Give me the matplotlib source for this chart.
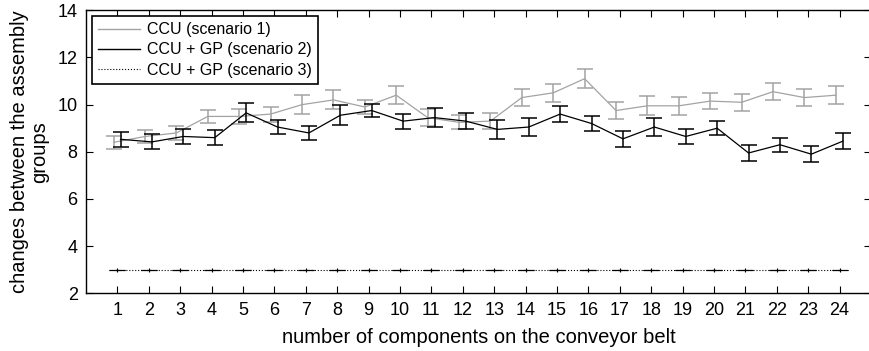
import matplotlib
matplotlib.use("Agg")
import matplotlib.pyplot as plt
import matplotlib.lines as mlines
import numpy as np

# ── Data ──────────────────────────────────────────────────────────────────────
components = np.arange(1, 25)

s1_mean = [8.4, 8.65, 8.8, 9.5, 9.5, 9.6, 10.0, 10.2, 9.9, 10.4, 9.45, 9.25,
           9.3, 10.3, 10.5, 11.1, 9.75, 9.95, 9.95, 10.15, 10.1, 10.55, 10.3, 10.4]
s1_err = [0.29, 0.29, 0.28, 0.28, 0.32, 0.32, 0.39, 0.40, 0.29, 0.39, 0.35, 0.29,
          0.33, 0.37, 0.38, 0.39, 0.35, 0.40, 0.39, 0.34, 0.35, 0.35, 0.37, 0.38]

s2_mean = [8.53, 8.42, 8.65, 8.6, 9.65, 9.05, 8.8, 9.55, 9.75, 9.3, 9.45, 9.3,
           8.95, 9.05, 9.6, 9.2, 8.55, 9.05, 8.65, 9.0, 7.95, 8.3, 7.9, 8.45]
s2_err = [0.32, 0.32, 0.32, 0.32, 0.40, 0.28, 0.29, 0.42, 0.29, 0.32, 0.40, 0.34,
          0.41, 0.39, 0.35, 0.30, 0.34, 0.39, 0.33, 0.30, 0.32, 0.30, 0.34, 0.34]

s3_mean = [3.0] * 24
s3_err = [0.0] * 24

LABELS = ["CCU (scenario 1)", "CCU + GP (scenario 2)", "CCU + GP (scenario 3)"]

# ── Style ─────────────────────────────────────────────────────────────────────
plt.rcParams["font.family"] = ["Liberation Sans", "DejaVu Sans"]
plt.rcParams["font.size"] = 11.5

GRAY = "#a3a3a3"
CAP = 5.8

fig = plt.figure(figsize=(8.69, 3.51), dpi=100)
ax = fig.add_axes([86 / 869, 57.7 / 351, 785 / 869, 283 / 351])

ax.errorbar(components - 0.12, s1_mean, yerr=s1_err, fmt="-", color=GRAY,
            linewidth=0.9, elinewidth=1.1, capsize=CAP, capthick=1.1, zorder=2)
ax.errorbar(components + 0.1, s2_mean, yerr=s2_err, fmt="-", color="black",
            linewidth=0.9, elinewidth=1.1, capsize=CAP, capthick=1.1, zorder=3)
# scenario 3 has (almost) no spread: caps collapse to one short dash per point
ax.errorbar(components, s3_mean, yerr=s3_err, fmt=":", color="black",
            linewidth=0.8, elinewidth=0.8, capsize=CAP, capthick=0.9,
            marker="+", markersize=3, markeredgewidth=0.8, zorder=3)

ax.set_xlim(0, 25)
ax.set_ylim(2, 14)
ax.set_xticks(components)
ax.set_yticks(np.arange(2, 15, 2))
ax.tick_params(direction="in", length=5, width=0.8, top=True, right=True,
               pad=6, labelsize=13)
for sp in ax.spines.values():
    sp.set_linewidth(1.0)

ax.set_xlabel("number of components on the conveyor belt", fontsize=14.5, labelpad=7)
ax.set_ylabel("changes between the assembly\ngroups", fontsize=14.5,
              labelpad=6, linespacing=1.1)

handles = [
    mlines.Line2D([0], [0], color=GRAY, linewidth=1.0, label=LABELS[0]),
    mlines.Line2D([0], [0], color="black", linewidth=1.0, label=LABELS[1]),
    mlines.Line2D([0], [0], color="black", linewidth=0.8, linestyle=":", label=LABELS[2]),
]
leg = ax.legend(handles=handles, loc="upper left", fancybox=False, framealpha=1,
                edgecolor="black", borderaxespad=0.35, handlelength=2.6,
                handletextpad=0.45, labelspacing=0.32, borderpad=0.4)
leg.get_frame().set_linewidth(1.2)

fig.savefig("out.png", dpi=100)
